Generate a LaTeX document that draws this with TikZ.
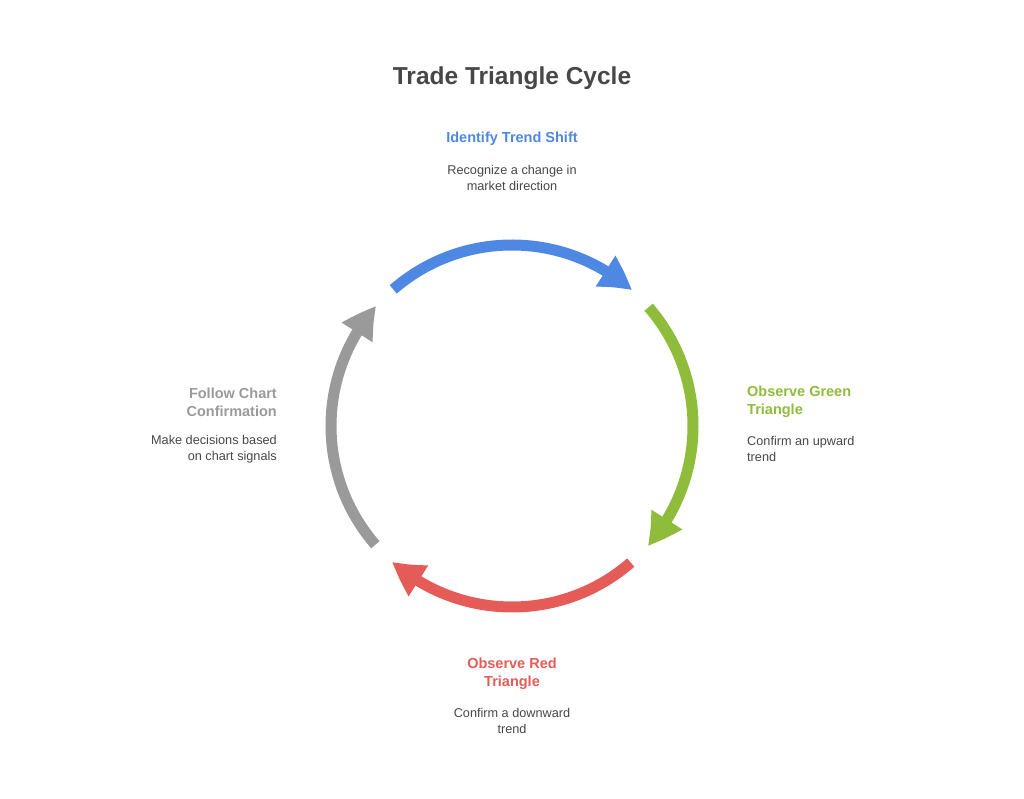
\documentclass[tikz,border=0pt]{standalone}
\usepackage{fontspec}
\setmainfont{Liberation Sans}
\usepackage{xcolor}
\usepackage{tikz}
\usetikzlibrary{arrows.meta,bending,calc}
\definecolor{trendblue}{HTML}{4F88E2}
\definecolor{greentri}{HTML}{8FBC3B}
\definecolor{redtri}{HTML}{E55B57}
\definecolor{chartgray}{HTML}{9A9A9A}
\definecolor{bodytext}{HTML}{474747}
\def\cyclearc#1#2#3{\draw[cyc,#1] ($(hub)+(#2:181)$) arc[start angle=#2,end angle=#3,radius=181]}
\tikzstyle{title}=[font=\bfseries\fontsize{24.5}{28}\selectfont,text=bodytext,inner sep=0pt]
\tikzstyle{head}=[font=\bfseries\fontsize{14.5}{18}\selectfont,inner sep=0pt]
\tikzstyle{desc}=[font=\fontsize{12.7}{16}\selectfont,text=bodytext,inner sep=0pt]
\tikzstyle{cyc}=[line width=11pt,-{Triangle[length=33pt,width=34pt,bend]}]

\begin{document}
\begin{tikzpicture}[x=1pt,y=1pt]
    \useasboundingbox (0,0) rectangle (1024,799);
    \coordinate (hub) at (512,373);
    \node[title] (title) at (512,721) {Trade Triangle Cycle};
    % the four arrows of the cycle
    \cyclearc{trendblue}{131}{48.5};
    \cyclearc{greentri}{41}{-41.5};
    \cyclearc{redtri}{-49}{-131.5};
    \cyclearc{chartgray}{-139}{-221.5};
    % top
    \node[head,text=trendblue] (shift) at (512,660) {Identify Trend Shift};
    \node[desc,align=center] (shiftd) at (512,621) {Recognize a change in\\market direction};
    % right
    \node[head,text=greentri,anchor=west,align=left] (green) at (747,397) {Observe Green\\Triangle};
    \node[desc,anchor=west,align=left] (greend) at (747,350) {Confirm an upward\\trend};
    % bottom
    \node[head,text=redtri,align=center] (red) at (512,125) {Observe Red\\Triangle};
    \node[desc,align=center] (redd) at (512,78) {Confirm a downward\\trend};
    % left
    \node[head,text=chartgray,anchor=east,align=right] (chart) at (277,397) {Follow Chart\\Confirmation};
    \node[desc,anchor=east,align=right] (chartd) at (277,350) {Make decisions based\\on chart signals};
  \end{tikzpicture}
\end{document}
